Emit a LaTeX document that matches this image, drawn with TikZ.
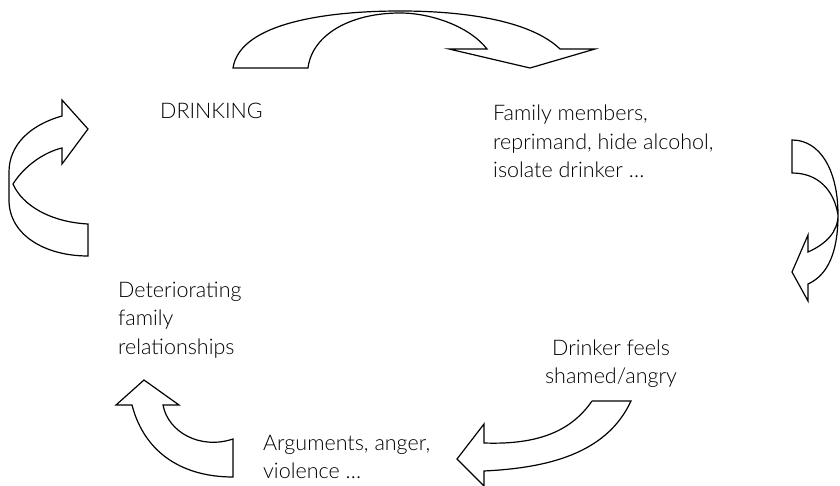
\documentclass[tikz,border=0pt]{standalone}
\usepackage{fontspec}
\setmainfont{Lato}[UprightFont={* Light}]
\begin{document}
\begin{tikzpicture}[x=1pt,y=-1pt,
  cyclearrow/.style={draw=black,fill=white,line width=1.2pt,line join=miter},
  label/.style={inner sep=0pt,anchor=base west,align=left,
    font=\fontsize{21.5}{28.5}\selectfont}]
\useasboundingbox (0,0) rectangle (840,486);

% text of the cycle (anchors sit on the baseline of the last line)
\node[label] (drink) at (160,119) {DRINKING};
\node[label] (family) at (493,178) {Family members,\\reprimand, hide alcohol,\\isolate drinker \dots};
\node[label,align=center,anchor=base] (shame) at (611,383.5) {Drinker feels\\shamed/angry};
\node[label] (argue) at (263,478.5) {Arguments, anger,\\violence \dots};
\node[label] (deter) at (118,354) {Deteriorating\\family\\relationships};

% top arrow: DRINKING -> family members
\draw[cyclearrow] (233,68) .. controls (240,22) and (330,11) .. (400,11)
  .. controls (470,11) and (532,22) .. (560,49) -- (595,49) -- (530,68) -- (449,49) -- (487,49)
  .. controls (470,27) and (432,13) .. (400,13)
  .. controls (350,13) and (312,35) .. (308,68) -- cycle;

% right arrow: family members -> drinker feels shamed
\draw[cyclearrow] (792,140) .. controls (820,140) and (838,170) .. (838,215)
  .. controls (838,252) and (828,275) .. (808,284) -- (808,301) -- (792,272) -- (808,235) -- (808,252)
  .. controls (826,244) and (838,232) .. (838,215)
  .. controls (834,190) and (818,173) .. (792,173) -- cycle;

% lower right arrow: shamed -> arguments
\draw[cyclearrow] (592,401) -- (631,401)
  .. controls (606,455) and (545,468) .. (484,471) -- (484,486) -- (457,459) -- (484,424) -- (484,443)
  .. controls (540,445) and (572,430) .. (592,401);

% lower left arrow: arguments -> deteriorating relationships
\draw[cyclearrow] (144,380) -- (116,405) -- (132,405)
  .. controls (145,455) and (185,477) .. (233,477) -- (233,439)
  .. controls (200,450) and (168,432) .. (163,405) -- (179,405) -- cycle;

% left arrow: deteriorating relationships -> DRINKING
\draw[cyclearrow] (88,129) -- (62,100) -- (62,116)
  .. controls (30,125) and (9,145) .. (9,172) -- (9,200)
  .. controls (9,235) and (45,256) .. (88,256) -- (88,224)
  .. controls (50,222) and (22,205) .. (13,184)
  .. controls (25,165) and (45,152) .. (62,148) -- (62,164) -- cycle;
\end{tikzpicture}
\end{document}
